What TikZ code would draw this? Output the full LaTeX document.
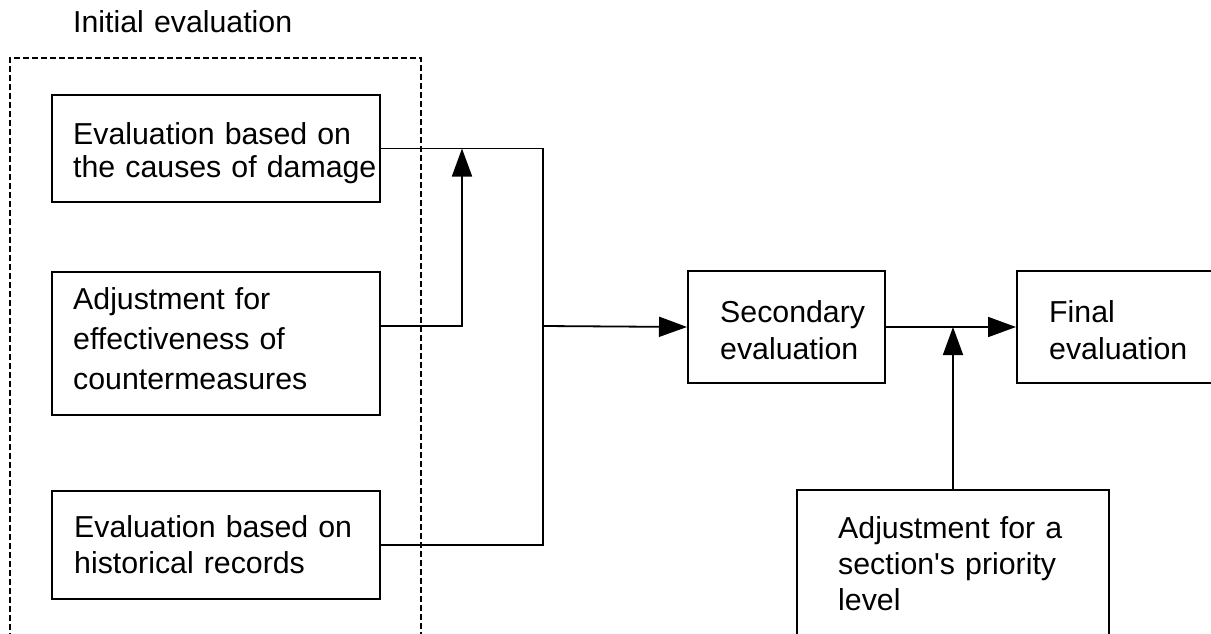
\documentclass[tikz,border=0pt]{standalone}
\usepackage{fontspec}
\setmainfont{Liberation Sans}
\usetikzlibrary{arrows.meta}
\newcommand{\lbl}[1]{\fontsize{30.3}{#1}\selectfont}
\begin{document}
\begin{tikzpicture}[x=1pt,y=-1pt,
  box/.style={draw, line width=2pt, inner sep=0pt, anchor=north west},
  txt/.style={anchor=base west, inner sep=0pt, align=left, text width=#1},
  txt/.default=310pt,
  link/.style={line width=1.8pt},
  arr/.style={line width=1.8pt, -{Triangle[length=28pt,width=20pt]}},
  grp/.style={draw, line width=1.6pt, dash pattern=on 6pt off 3pt, inner sep=0pt, anchor=north west}]
\useasboundingbox (0,0) rectangle (1211,634);
\clip (0,0) rectangle (1211,634);

% dashed group around the three initial inputs
\node[grp, minimum width=411pt, minimum height=700pt] (grp) at (9,57) {};
\node[txt, font=\lbl{36}] (title) at (73,33) {Initial evaluation};

% boxes
\node[box, minimum width=328pt, minimum height=107pt] (b1) at (51,94) {};
\node[box, minimum width=328pt, minimum height=143pt] (b2) at (51,271) {};
\node[box, minimum width=328pt, minimum height=108pt] (b3) at (51,490) {};
\node[box, minimum width=197pt, minimum height=112pt] (sec) at (687,270) {};
\node[box, minimum width=240pt, minimum height=112pt] (fin) at (1016,270) {};
\node[box, minimum width=312pt, minimum height=250pt] (prio) at (796,489) {};

% box texts
\node[txt, font=\lbl{33}] (t1) at (73,144) {Evaluation based on\\the causes of damage};
\node[txt, font=\lbl{40}] (t2) at (73,309) {Adjustment for\\effectiveness of\\countermeasures};
\node[txt, font=\lbl{36}] (t3) at (74,537) {Evaluation based on\\historical records};
\node[txt=200pt, font=\lbl{37}] (t4) at (720,322) {Secondary\\evaluation};
\node[txt=200pt, font=\lbl{37}] (t5) at (1049,322) {Final\\evaluation};
\node[txt=260pt, font=\lbl{36}] (t6) at (838,538) {Adjustment for a\\section\textquotesingle s priority\\level};

% connectors
\coordinate (busx) at (543,0);
\coordinate (upx) at (462,0);
\coordinate (b2o) at (379,326);
\draw[link] (b1.east) -- (b1.east -| busx) -- (b3.east -| busx) -- (b3.east);
\draw[arr] (b2o) -- (b2o -| upx) -- (b1.east -| upx);
\draw[arr] (b2o -| busx) -- (sec.west);
\draw[arr] (sec.east) -- (fin.west);
\draw[arr] (prio.north) -- (prio.north |- sec.east);
\end{tikzpicture}
\end{document}
